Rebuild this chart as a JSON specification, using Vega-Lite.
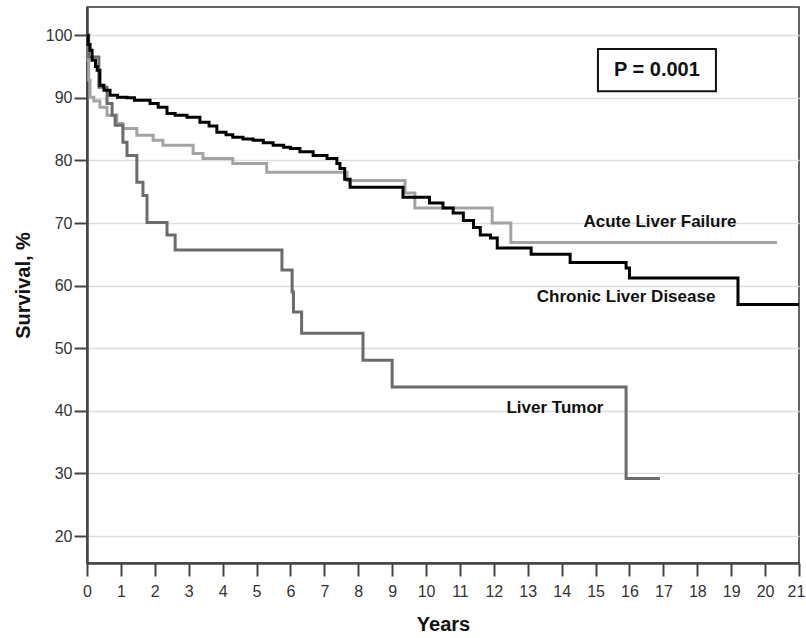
{
  "$schema": "https://vega.github.io/schema/vega-lite/v6.json",
  "width": 712,
  "height": 556,
  "autosize": {"type": "none"},
  "padding": {"left": 87, "top": 7, "right": 7, "bottom": 75},
  "background": "white",
  "config": {
    "view": {"stroke": "#333333", "strokeWidth": 1.5},
    "font": "Liberation Sans"
  },
  "datasets": {
    "curves": [
      {"group": "Chronic Liver Disease", "year": 0, "surv": 100},
      {"group": "Chronic Liver Disease", "year": 0.03, "surv": 98.5},
      {"group": "Chronic Liver Disease", "year": 0.09, "surv": 97.6},
      {"group": "Chronic Liver Disease", "year": 0.15, "surv": 96},
      {"group": "Chronic Liver Disease", "year": 0.25, "surv": 95},
      {"group": "Chronic Liver Disease", "year": 0.3, "surv": 94.4},
      {"group": "Chronic Liver Disease", "year": 0.38, "surv": 92},
      {"group": "Chronic Liver Disease", "year": 0.5, "surv": 91.2},
      {"group": "Chronic Liver Disease", "year": 0.68, "surv": 90.4},
      {"group": "Chronic Liver Disease", "year": 0.9, "surv": 90.1},
      {"group": "Chronic Liver Disease", "year": 1.18, "surv": 90},
      {"group": "Chronic Liver Disease", "year": 1.4, "surv": 89.6},
      {"group": "Chronic Liver Disease", "year": 1.86, "surv": 89.1},
      {"group": "Chronic Liver Disease", "year": 2.1, "surv": 88.5},
      {"group": "Chronic Liver Disease", "year": 2.36, "surv": 87.5},
      {"group": "Chronic Liver Disease", "year": 2.6, "surv": 87.2},
      {"group": "Chronic Liver Disease", "year": 2.95, "surv": 86.9},
      {"group": "Chronic Liver Disease", "year": 3.33, "surv": 86.1},
      {"group": "Chronic Liver Disease", "year": 3.6, "surv": 85.5},
      {"group": "Chronic Liver Disease", "year": 3.83, "surv": 84.5},
      {"group": "Chronic Liver Disease", "year": 4.1, "surv": 84.1},
      {"group": "Chronic Liver Disease", "year": 4.3, "surv": 83.7},
      {"group": "Chronic Liver Disease", "year": 4.6, "surv": 83.4},
      {"group": "Chronic Liver Disease", "year": 4.9, "surv": 83.2},
      {"group": "Chronic Liver Disease", "year": 5.2, "surv": 82.8},
      {"group": "Chronic Liver Disease", "year": 5.49, "surv": 82.4},
      {"group": "Chronic Liver Disease", "year": 5.8, "surv": 82.1},
      {"group": "Chronic Liver Disease", "year": 6.0, "surv": 81.9},
      {"group": "Chronic Liver Disease", "year": 6.28, "surv": 81.4},
      {"group": "Chronic Liver Disease", "year": 6.67, "surv": 80.8},
      {"group": "Chronic Liver Disease", "year": 7.08, "surv": 80.3},
      {"group": "Chronic Liver Disease", "year": 7.37, "surv": 79.5},
      {"group": "Chronic Liver Disease", "year": 7.46, "surv": 78.7},
      {"group": "Chronic Liver Disease", "year": 7.6, "surv": 77},
      {"group": "Chronic Liver Disease", "year": 7.76, "surv": 75.7},
      {"group": "Chronic Liver Disease", "year": 9.32, "surv": 74.1},
      {"group": "Chronic Liver Disease", "year": 10.1, "surv": 73.2},
      {"group": "Chronic Liver Disease", "year": 10.5, "surv": 72.4},
      {"group": "Chronic Liver Disease", "year": 10.8, "surv": 71.6},
      {"group": "Chronic Liver Disease", "year": 11.1, "surv": 70.4},
      {"group": "Chronic Liver Disease", "year": 11.4, "surv": 69.3},
      {"group": "Chronic Liver Disease", "year": 11.6, "surv": 68.1},
      {"group": "Chronic Liver Disease", "year": 11.9, "surv": 67.6},
      {"group": "Chronic Liver Disease", "year": 12.1, "surv": 66},
      {"group": "Chronic Liver Disease", "year": 13.1, "surv": 65},
      {"group": "Chronic Liver Disease", "year": 14.25, "surv": 63.7},
      {"group": "Chronic Liver Disease", "year": 15.9, "surv": 62.8},
      {"group": "Chronic Liver Disease", "year": 16.0, "surv": 61.2},
      {"group": "Chronic Liver Disease", "year": 19.2, "surv": 57},
      {"group": "Chronic Liver Disease", "year": 21, "surv": 57},
      {"group": "Acute Liver Failure", "year": 0, "surv": 100},
      {"group": "Acute Liver Failure", "year": 0.03, "surv": 96},
      {"group": "Acute Liver Failure", "year": 0.05, "surv": 92.8},
      {"group": "Acute Liver Failure", "year": 0.09, "surv": 90.1},
      {"group": "Acute Liver Failure", "year": 0.2, "surv": 89.5},
      {"group": "Acute Liver Failure", "year": 0.38, "surv": 88.5},
      {"group": "Acute Liver Failure", "year": 0.59, "surv": 87.2},
      {"group": "Acute Liver Failure", "year": 0.88, "surv": 85.9},
      {"group": "Acute Liver Failure", "year": 1.06, "surv": 85.1},
      {"group": "Acute Liver Failure", "year": 1.47, "surv": 84},
      {"group": "Acute Liver Failure", "year": 1.95, "surv": 83.2},
      {"group": "Acute Liver Failure", "year": 2.24, "surv": 82.4},
      {"group": "Acute Liver Failure", "year": 3.13, "surv": 81.1},
      {"group": "Acute Liver Failure", "year": 3.42, "surv": 80.3},
      {"group": "Acute Liver Failure", "year": 4.3, "surv": 79.5},
      {"group": "Acute Liver Failure", "year": 5.3, "surv": 78.1},
      {"group": "Acute Liver Failure", "year": 7.67, "surv": 76.8},
      {"group": "Acute Liver Failure", "year": 9.38, "surv": 74.8},
      {"group": "Acute Liver Failure", "year": 9.67, "surv": 72.4},
      {"group": "Acute Liver Failure", "year": 11.95, "surv": 70},
      {"group": "Acute Liver Failure", "year": 12.5, "surv": 66.9},
      {"group": "Acute Liver Failure", "year": 20.35, "surv": 66.9},
      {"group": "Liver Tumor", "year": 0, "surv": 100},
      {"group": "Liver Tumor", "year": 0.05, "surv": 96.5},
      {"group": "Liver Tumor", "year": 0.35, "surv": 91.7},
      {"group": "Liver Tumor", "year": 0.59, "surv": 89.1},
      {"group": "Liver Tumor", "year": 0.74, "surv": 87.2},
      {"group": "Liver Tumor", "year": 0.83, "surv": 85.6},
      {"group": "Liver Tumor", "year": 1.06, "surv": 82.9},
      {"group": "Liver Tumor", "year": 1.18, "surv": 80.8},
      {"group": "Liver Tumor", "year": 1.47, "surv": 76.5},
      {"group": "Liver Tumor", "year": 1.65, "surv": 74.4},
      {"group": "Liver Tumor", "year": 1.77, "surv": 70.1},
      {"group": "Liver Tumor", "year": 2.36, "surv": 68.1},
      {"group": "Liver Tumor", "year": 2.6, "surv": 65.7},
      {"group": "Liver Tumor", "year": 5.75, "surv": 62.5},
      {"group": "Liver Tumor", "year": 6.05, "surv": 59},
      {"group": "Liver Tumor", "year": 6.09, "surv": 55.8},
      {"group": "Liver Tumor", "year": 6.33, "surv": 52.4},
      {"group": "Liver Tumor", "year": 8.14, "surv": 48.1},
      {"group": "Liver Tumor", "year": 9.0, "surv": 43.8},
      {"group": "Liver Tumor", "year": 15.9, "surv": 29.2},
      {"group": "Liver Tumor", "year": 16.9, "surv": 29.2}
    ],
    "labels": [
      {"text": "Acute Liver Failure", "year": 16.9, "surv": 70.1},
      {"text": "Chronic Liver Disease", "year": 15.9, "surv": 58.15},
      {"text": "Liver Tumor", "year": 13.8, "surv": 40.4}
    ],
    "pbox": [
      {"year": 15.07, "year2": 18.55, "surv": 97.8, "surv2": 91.05, "xc": 16.81, "yc": 94.4, "text": "P = 0.001"}
    ]
  },
  "encoding": {
    "x": {
      "field": "year", "type": "quantitative",
      "scale": {"domain": [0, 21], "nice": false, "zero": false},
      "axis": {
        "title": "Years", "values": [0,1,2,3,4,5,6,7,8,9,10,11,12,13,14,15,16,17,18,19,20,21],
        "labelOverlap": false,
        "grid": false, "labelFontSize": 16, "labelColor": "#333333", "labelPadding": 7,
        "labelOffset": {"expr": "datum.value == 21 ? -3 : 0"},
        "tickSize": 13, "tickWidth": 2, "tickColor": "#444444",
        "domainColor": "#444444", "domainWidth": 2.5,
        "titleFontSize": 20, "titleFontWeight": "bold", "titleColor": "#111111", "titlePadding": 15,
        "labelFlush": false
      }
    },
    "y": {
      "field": "surv", "type": "quantitative",
      "scale": {"domain": [15.7, 104.5], "nice": false, "zero": false},
      "axis": {
        "title": "Survival, %", "values": [20,30,40,50,60,70,80,90,100],
        "grid": true, "gridColor": "#dddddd", "gridWidth": 1.5,
        "labelFontSize": 16, "labelColor": "#333333", "labelPadding": 2,
        "tickSize": 13, "tickWidth": 2, "tickColor": "#444444",
        "domainColor": "#444444", "domainWidth": 2.5,
        "titleFontSize": 20, "titleFontWeight": "bold", "titleColor": "#111111", "titlePadding": 12
      }
    }
  },
  "layer": [
    {
      "data": {"name": "curves"},
      "transform": [{"filter": "datum.group === 'Acute Liver Failure'"}],
      "mark": {"type": "line", "interpolate": "step-after", "color": "#a3a3a3", "strokeWidth": 3}
    },
    {
      "data": {"name": "curves"},
      "transform": [{"filter": "datum.group === 'Liver Tumor'"}],
      "mark": {"type": "line", "interpolate": "step-after", "color": "#6b6b6b", "strokeWidth": 3}
    },
    {
      "data": {"name": "curves"},
      "transform": [{"filter": "datum.group === 'Chronic Liver Disease'"}],
      "mark": {"type": "line", "interpolate": "step-after", "color": "#000000", "strokeWidth": 3}
    },
    {
      "data": {"name": "labels"},
      "mark": {"type": "text", "fontSize": 17, "fontWeight": "bold", "color": "#111111", "align": "center", "baseline": "middle"},
      "encoding": {
        "text": {"field": "text"}
      }
    },
    {
      "data": {"name": "pbox"},
      "mark": {"type": "rect", "fill": "white", "stroke": "#111111", "strokeWidth": 2},
      "encoding": {
        "x2": {"field": "year2"},
        "y2": {"field": "surv2"}
      }
    },
    {
      "data": {"name": "pbox"},
      "mark": {"type": "text", "fontSize": 20, "fontWeight": "bold", "color": "#111111", "align": "center", "baseline": "middle"},
      "encoding": {
        "x": {"field": "xc", "type": "quantitative"},
        "y": {"field": "yc", "type": "quantitative"},
        "text": {"field": "text"}
      }
    }
  ]
}
